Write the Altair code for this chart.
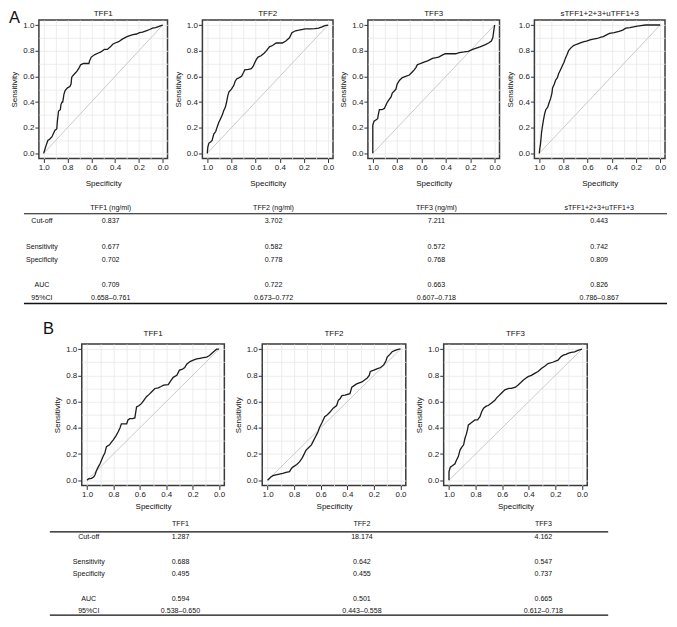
import altair as alt
import pandas as pd

FONT = "Liberation Sans, Arial, Helvetica, sans-serif"

# ---------------- ROC curves: (specificity, sensitivity) ----------------
A_TFF1 = [(1.0, 0.0), (0.99, 0.03), (0.98, 0.06), (0.965, 0.10), (0.95, 0.11), (0.93, 0.13),
          (0.915, 0.16), (0.905, 0.18), (0.89, 0.19), (0.885, 0.25), (0.875, 0.33), (0.86, 0.34),
          (0.855, 0.38), (0.845, 0.40), (0.84, 0.40), (0.83, 0.46), (0.82, 0.49), (0.80, 0.51),
          (0.78, 0.52), (0.77, 0.54), (0.765, 0.59), (0.76, 0.60), (0.74, 0.62), (0.72, 0.64),
          (0.70, 0.67), (0.69, 0.69), (0.665, 0.70), (0.64, 0.70), (0.62, 0.70), (0.615, 0.72),
          (0.60, 0.75), (0.57, 0.77), (0.545, 0.78), (0.52, 0.79), (0.49, 0.81), (0.465, 0.81),
          (0.44, 0.83), (0.42, 0.85), (0.40, 0.86), (0.37, 0.87), (0.34, 0.89), (0.32, 0.90),
          (0.30, 0.91), (0.27, 0.92), (0.25, 0.925), (0.22, 0.93), (0.195, 0.94), (0.17, 0.945),
          (0.14, 0.955), (0.11, 0.965), (0.086, 0.975), (0.06, 0.98), (0.03, 0.99), (0.015, 0.995),
          (0.0, 1.0)]
A_TFF2 = [(1.0, 0.0), (0.995, 0.05), (0.986, 0.08), (0.97, 0.09), (0.96, 0.10), (0.946, 0.15),
          (0.93, 0.17), (0.92, 0.20), (0.905, 0.24), (0.89, 0.27), (0.875, 0.30), (0.865, 0.33),
          (0.85, 0.36), (0.84, 0.40), (0.83, 0.45), (0.82, 0.48), (0.80, 0.50), (0.78, 0.53),
          (0.77, 0.56), (0.757, 0.58), (0.735, 0.59), (0.716, 0.60), (0.70, 0.63), (0.69, 0.65),
          (0.66, 0.655), (0.635, 0.66), (0.62, 0.68), (0.61, 0.70), (0.595, 0.73), (0.58, 0.75),
          (0.555, 0.76), (0.53, 0.78), (0.51, 0.80), (0.486, 0.83), (0.46, 0.84), (0.43, 0.86),
          (0.40, 0.86), (0.38, 0.86), (0.35, 0.875), (0.32, 0.90), (0.30, 0.94), (0.27, 0.955),
          (0.243, 0.96), (0.22, 0.965), (0.19, 0.97), (0.15, 0.97), (0.11, 0.972), (0.08, 0.975),
          (0.05, 0.985), (0.027, 0.995), (0.0, 1.0)]
A_TFF3 = [(1.0, 0.0), (1.0, 0.22), (0.99, 0.25), (0.975, 0.26), (0.96, 0.27), (0.955, 0.30),
          (0.946, 0.34), (0.925, 0.34), (0.905, 0.35), (0.89, 0.38), (0.88, 0.40), (0.865, 0.42),
          (0.85, 0.44), (0.84, 0.47), (0.82, 0.49), (0.81, 0.50), (0.80, 0.54), (0.78, 0.57),
          (0.757, 0.59), (0.73, 0.60), (0.70, 0.61), (0.68, 0.63), (0.66, 0.65), (0.645, 0.67),
          (0.635, 0.69), (0.61, 0.70), (0.58, 0.71), (0.55, 0.72), (0.51, 0.74), (0.48, 0.745),
          (0.46, 0.75), (0.43, 0.765), (0.405, 0.776), (0.36, 0.776), (0.32, 0.776), (0.29, 0.785),
          (0.25, 0.79), (0.216, 0.795), (0.18, 0.81), (0.15, 0.82), (0.12, 0.83), (0.08, 0.845),
          (0.05, 0.86), (0.027, 0.875), (0.015, 0.90), (0.008, 0.95), (0.0, 1.0)]
A_COMBO = [(1.0, 0.0), (0.995, 0.04), (0.99, 0.07), (0.985, 0.12), (0.98, 0.17), (0.972, 0.22),
           (0.965, 0.26), (0.955, 0.31), (0.946, 0.34), (0.93, 0.36), (0.92, 0.39), (0.905, 0.43),
           (0.895, 0.47), (0.89, 0.51), (0.875, 0.54), (0.865, 0.57), (0.85, 0.59), (0.84, 0.62),
           (0.825, 0.65), (0.81, 0.68), (0.795, 0.71), (0.784, 0.74), (0.77, 0.77), (0.757, 0.80),
           (0.74, 0.82), (0.716, 0.84), (0.69, 0.85), (0.66, 0.86), (0.63, 0.87), (0.61, 0.875),
           (0.58, 0.885), (0.554, 0.89), (0.52, 0.895), (0.49, 0.905), (0.47, 0.91), (0.44, 0.925),
           (0.42, 0.935), (0.38, 0.94), (0.34, 0.95), (0.31, 0.96), (0.284, 0.975), (0.25, 0.98),
           (0.2, 0.99), (0.16, 0.995), (0.12, 1.0), (0.0, 1.0)]
B_TFF1 = [(1.0, 0.0), (0.99, 0.01), (0.967, 0.015), (0.95, 0.025), (0.94, 0.04), (0.93, 0.07),
          (0.916, 0.10), (0.90, 0.13), (0.89, 0.155), (0.875, 0.19), (0.866, 0.205), (0.853, 0.256),
          (0.83, 0.27), (0.815, 0.29), (0.80, 0.31), (0.78, 0.34), (0.764, 0.37), (0.75, 0.40),
          (0.74, 0.43), (0.72, 0.43), (0.70, 0.43), (0.69, 0.46), (0.676, 0.47), (0.655, 0.47),
          (0.638, 0.475), (0.625, 0.56), (0.605, 0.57), (0.587, 0.586), (0.57, 0.61), (0.55, 0.637),
          (0.53, 0.655), (0.51, 0.675), (0.486, 0.70), (0.46, 0.705), (0.44, 0.715), (0.42, 0.726),
          (0.385, 0.73), (0.365, 0.76), (0.347, 0.785), (0.32, 0.80), (0.30, 0.84), (0.28, 0.845),
          (0.26, 0.86), (0.245, 0.885), (0.22, 0.905), (0.195, 0.916), (0.17, 0.925), (0.144, 0.93),
          (0.12, 0.935), (0.094, 0.94), (0.075, 0.95), (0.056, 0.967), (0.035, 0.985), (0.018, 1.0),
          (0.0, 1.0)]
B_TFF2 = [(1.0, 0.0), (0.99, 0.01), (0.975, 0.025), (0.96, 0.035), (0.92, 0.045), (0.886, 0.053),
          (0.86, 0.06), (0.835, 0.066), (0.82, 0.09), (0.81, 0.10), (0.78, 0.12), (0.76, 0.14),
          (0.745, 0.16), (0.734, 0.18), (0.72, 0.21), (0.71, 0.23), (0.69, 0.25), (0.67, 0.27),
          (0.655, 0.30), (0.645, 0.32), (0.63, 0.35), (0.62, 0.37), (0.61, 0.40), (0.59, 0.44),
          (0.57, 0.485), (0.55, 0.50), (0.53, 0.52), (0.506, 0.55), (0.48, 0.57), (0.468, 0.61),
          (0.456, 0.62), (0.44, 0.645), (0.417, 0.65), (0.38, 0.66), (0.366, 0.71), (0.33, 0.735),
          (0.29, 0.75), (0.25, 0.78), (0.235, 0.80), (0.227, 0.83), (0.2, 0.84), (0.177, 0.85),
          (0.15, 0.86), (0.126, 0.88), (0.11, 0.91), (0.10, 0.94), (0.08, 0.96), (0.063, 0.98),
          (0.04, 0.99), (0.013, 1.0), (0.0, 1.0)]
B_TFF3 = [(1.0, 0.0), (1.0, 0.066), (0.99, 0.10), (0.975, 0.11), (0.955, 0.125), (0.945, 0.15),
          (0.93, 0.18), (0.917, 0.23), (0.905, 0.25), (0.89, 0.27), (0.88, 0.32), (0.87, 0.35),
          (0.86, 0.39), (0.855, 0.42), (0.83, 0.44), (0.805, 0.46), (0.785, 0.46), (0.767, 0.485),
          (0.755, 0.52), (0.74, 0.55), (0.72, 0.565), (0.705, 0.57), (0.68, 0.59), (0.655, 0.61),
          (0.64, 0.63), (0.63, 0.64), (0.61, 0.66), (0.58, 0.69), (0.55, 0.70), (0.53, 0.70),
          (0.50, 0.71), (0.48, 0.726), (0.46, 0.745), (0.44, 0.765), (0.42, 0.78), (0.405, 0.79),
          (0.38, 0.80), (0.355, 0.815), (0.33, 0.83), (0.305, 0.853), (0.28, 0.87), (0.255, 0.89),
          (0.22, 0.90), (0.18, 0.916), (0.16, 0.94), (0.14, 0.954), (0.12, 0.96), (0.105, 0.967),
          (0.08, 0.975), (0.055, 0.98), (0.03, 0.99), (0.0, 1.0)]

DIAG_SPEC = [1.0, 0.0]
DIAG_SENS = [0.0, 1.0]

A_TITLES = ["TFF1", "TFF2", "TFF3", "sTFF1+2+3+uTFF1+3"]
B_TITLES = ["TFF1", "TFF2", "TFF3"]
TICK_VALUES = [0.0, 0.1, 0.2, 0.3, 0.4, 0.5, 0.6, 0.7, 0.8, 0.9, 1.0]

# ---------------- tables ----------------
ROW_LABELS = ["Cut-off", "Sensitivity", "Specificity", "AUC", "95%CI"]
ROW_SLOTS = ["hdr", "Cut-off", "gap1", "Sensitivity", "Specificity", "gap2", "AUC", "95%CI"]

A_HEADERS = ["TFF1 (ng/ml)", "TFF2 (ng/ml)", "TFF3 (ng/ml)", "sTFF1+2+3+uTFF1+3"]
A_CUTOFF = ["0.837", "3.702", "7.211", "0.443"]
A_SENS = ["0.677", "0.582", "0.572", "0.742"]
A_SPEC = ["0.702", "0.778", "0.768", "0.809"]
A_AUC = ["0.709", "0.722", "0.663", "0.826"]
A_CI = ["0.658–0.761", "0.673–0.772", "0.607–0.718", "0.786–0.867"]

B_HEADERS = ["TFF1", "TFF2", "TFF3"]
B_CUTOFF = ["1.287", "18.174", "4.162"]
B_SENS = ["0.688", "0.642", "0.547"]
B_SPEC = ["0.495", "0.455", "0.737"]
B_AUC = ["0.594", "0.501", "0.665"]
B_CI = ["0.538–0.650", "0.443–0.558", "0.612–0.718"]

ODD = "round(datum.value * 10) % 2 == 1"
INK = "#111111"


def make_axis(title, title_pad):
    return alt.Axis(
        title=title, values=TICK_VALUES, grid=True, gridColor="#e9e9e9", gridWidth=0.8,
        domain=False, ticks=True, tickSize=4, tickColor="#333333", tickWidth=1,
        tickOpacity={"condition": {"test": ODD, "value": 0}, "value": 1},
        labelExpr=ODD + " ? '' : format(datum.value, '.1f')",
        labelOverlap=False, labelFlush=False,
        labelFont=FONT, labelFontSize=8, labelColor="#1a1a1a", labelPadding=1,
        titleFont=FONT, titleFontSize=8, titleFontWeight="normal", titleColor=INK,
        titlePadding=title_pad,
    )


def roc_panel(pairs, title, width, height, title_y, x_title_pad,
              tag=None, tag_x=0, tag_y=0):
    curve = pd.DataFrame(pairs, columns=["spec", "sens"])
    curve["idx"] = list(range(len(curve)))
    diag = pd.DataFrame({"spec": DIAG_SPEC, "sens": DIAG_SENS})
    xs = alt.Scale(domain=[-0.04, 1.04], reverse=True, nice=False, zero=False)
    ys = alt.Scale(domain=[-0.04, 1.04], nice=False, zero=False)
    xa = make_axis("Specificity", x_title_pad)
    ya = make_axis("Sensitivity", 4)

    layers = [
        alt.Chart(diag).mark_line(color="#c4c4c4", strokeWidth=0.9).encode(
            x=alt.X("spec:Q", scale=xs, axis=xa),
            y=alt.Y("sens:Q", scale=ys, axis=ya),
        ),
        alt.Chart(curve).mark_line(color="#1c1c1c", strokeWidth=1.3).encode(
            x=alt.X("spec:Q", scale=xs, axis=xa),
            y=alt.Y("sens:Q", scale=ys, axis=ya),
            order=alt.Order("idx:Q"),
        ),
        alt.Chart(pd.DataFrame({"t": [title]})).mark_text(
            font=FONT, fontSize=8, align="center", baseline="bottom", color=INK
        ).encode(x=alt.value(width / 2), y=alt.value(title_y), text="t:N"),
    ]
    if tag is not None:
        layers.append(
            alt.Chart(pd.DataFrame({"t": [tag]})).mark_text(
                font=FONT, fontSize=16.5, align="left", baseline="top", color=INK
            ).encode(x=alt.value(tag_x), y=alt.value(tag_y), text="t:N")
        )
    return alt.layer(*layers).properties(width=width, height=height)


def spacer(width, height):
    return alt.Chart(pd.DataFrame({"s": [0]})).mark_rule(opacity=0).encode(
        x=alt.value(0), x2=alt.value(1), y=alt.value(0)
    ).properties(width=width, height=height, view=alt.ViewBackground(stroke="transparent"))


def table_chart(headers, values, width, height, label_x, col_range, y_range,
                rule_x, rule_top, rule_bottom):
    cols = ["c%d" % i for i in range(len(headers))]
    head_df = pd.DataFrame({"col": cols, "row": ["hdr"] * len(cols), "text": headers})
    recs = []
    for rname, vals in zip(ROW_LABELS, values):
        for c, v in zip(cols, vals):
            recs.append({"col": c, "row": rname, "text": v})
    val_df = pd.DataFrame(recs)
    lab_df = pd.DataFrame({"row": ROW_LABELS, "text": ROW_LABELS})

    yscale = alt.Scale(type="point", domain=ROW_SLOTS, range=y_range, padding=0)
    xscale = alt.Scale(type="point", domain=cols, range=col_range, padding=0)
    txt = dict(font=FONT, fontSize=7.1, color=INK, align="center", baseline="middle")

    layers = [
        alt.Chart(head_df).mark_text(**txt).encode(
            x=alt.X("col:N", scale=xscale, axis=None),
            y=alt.Y("row:N", scale=yscale, axis=None),
            text="text:N",
        ),
        alt.Chart(val_df).mark_text(**txt).encode(
            x=alt.X("col:N", scale=xscale, axis=None),
            y=alt.Y("row:N", scale=yscale, axis=None),
            text="text:N",
        ),
        alt.Chart(lab_df).mark_text(**txt).encode(
            x=alt.value(label_x),
            y=alt.Y("row:N", scale=yscale, axis=None),
            text="text:N",
        ),
        alt.Chart(pd.DataFrame({"r": [0]})).mark_rule(color=INK, strokeWidth=1.1).encode(
            x=alt.value(rule_x[0]), x2=alt.value(rule_x[1]), y=alt.value(rule_top)
        ),
        alt.Chart(pd.DataFrame({"r": [0]})).mark_rule(color=INK, strokeWidth=1.4).encode(
            x=alt.value(rule_x[0]), x2=alt.value(rule_x[1]), y=alt.value(rule_bottom)
        ),
    ]
    return alt.layer(*layers).properties(
        width=width, height=height, view=alt.ViewBackground(stroke="transparent")
    )


A_WIDTHS = [129, 131, 132, 131]
A_CURVES = [A_TFF1, A_TFF2, A_TFF3, A_COMBO]
row_a = alt.hconcat(
    *[
        roc_panel(c, t, w, 139, -1.5, 8,
                  tag=("A" if i == 0 else None), tag_x=-30, tag_y=-9.5)
        for i, (c, t, w) in enumerate(zip(A_CURVES, A_TITLES, A_WIDTHS))
    ],
    spacing=35, bounds="flush",
)

B_WIDTHS = [143, 144, 144]
B_CURVES = [B_TFF1, B_TFF2, B_TFF3]
row_b = alt.hconcat(
    spacer(5, 142),
    *[
        roc_panel(c, t, w, 142, -6, 4,
                  tag=("B" if i == 0 else None), tag_x=-39, tag_y=-23)
        for i, (c, t, w) in enumerate(zip(B_CURVES, B_TITLES, B_WIDTHS))
    ],
    spacing=38, bounds="flush",
)

# tables share the column origin of the panels above (x = 0 at the first frame)
table_a = table_chart(
    A_HEADERS, [A_CUTOFF, A_SENS, A_SPEC, A_AUC, A_CI],
    width=600, height=130, label_x=3, col_range=[72, 562], y_range=[19, 109],
    rule_x=(-15, 630), rule_top=24.5, rule_bottom=114.5,
)
table_b = table_chart(
    B_HEADERS, [B_CUTOFF, B_SENS, B_SPEC, B_AUC, B_CI],
    width=600, height=103, label_x=50, col_range=[142, 506], y_range=[12, 99],
    rule_x=(11, 571), rule_top=19.5, rule_bottom=103,
)

chart = alt.vconcat(row_a, table_a, row_b, table_b, spacing=0).properties(
    padding=0, background="white"
).configure_view(stroke="#3a3a3a", strokeWidth=1.5)

chart.save("out.html", embed_options={"renderer": "svg", "actions": False})
